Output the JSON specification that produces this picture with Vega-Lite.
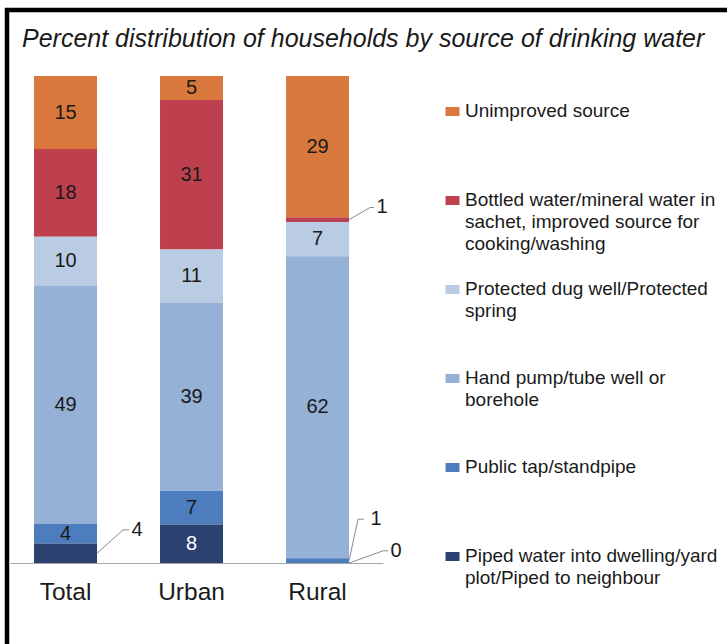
{
  "$schema": "https://vega.github.io/schema/vega-lite/v6.json",
  "width": 720,
  "height": 634,
  "autosize": {"type": "none"},
  "padding": {"left": 7, "top": 10, "right": 0, "bottom": 0},
  "background": "white",
  "title": {
    "text": "Percent distribution of households by source of drinking water",
    "anchor": "start",
    "frame": "group",
    "offset": -42,
    "dx": 15,
    "font": "Liberation Sans",
    "fontSize": 25,
    "fontStyle": "italic",
    "fontWeight": "normal",
    "color": "#1a1a1a"
  },
  "config": {
    "view": {"stroke": "black", "strokeWidth": 4.5, "strokeDash": [720, 1354, 634]},
    "style": {"guide-label": {"lineHeight": 22}}
  },
  "datasets": {
    "bars": [
      {"area": "Total", "source": "Unimproved source", "value": 15},
      {"area": "Total", "source": "Bottled water/mineral water in sachet, improved source for cooking/washing", "value": 18},
      {"area": "Total", "source": "Protected dug well/Protected spring", "value": 10},
      {"area": "Total", "source": "Hand pump/tube well or borehole", "value": 49},
      {"area": "Total", "source": "Public tap/standpipe", "value": 4},
      {"area": "Total", "source": "Piped water into dwelling/yard plot/Piped to neighbour", "value": 4},
      {"area": "Urban", "source": "Unimproved source", "value": 5},
      {"area": "Urban", "source": "Bottled water/mineral water in sachet, improved source for cooking/washing", "value": 31},
      {"area": "Urban", "source": "Protected dug well/Protected spring", "value": 11},
      {"area": "Urban", "source": "Hand pump/tube well or borehole", "value": 39},
      {"area": "Urban", "source": "Public tap/standpipe", "value": 7},
      {"area": "Urban", "source": "Piped water into dwelling/yard plot/Piped to neighbour", "value": 8},
      {"area": "Rural", "source": "Unimproved source", "value": 29},
      {"area": "Rural", "source": "Bottled water/mineral water in sachet, improved source for cooking/washing", "value": 1},
      {"area": "Rural", "source": "Protected dug well/Protected spring", "value": 7},
      {"area": "Rural", "source": "Hand pump/tube well or borehole", "value": 62},
      {"area": "Rural", "source": "Public tap/standpipe", "value": 1},
      {"area": "Rural", "source": "Piped water into dwelling/yard plot/Piped to neighbour", "value": 0}
    ]
  },
  "layer": [
    {
      "data": {"name": "bars"},
      "transform": [{"window": [{"op": "row_number", "as": "rank"}], "groupby": ["area"]}],
      "mark": {"type": "bar"},
      "encoding": {
        "x": {
          "field": "area", "type": "nominal", "sort": ["Total", "Urban", "Rural"],
          "scale": {"range": [3, 376], "paddingInner": 0.5, "paddingOuter": 0.23, "align": 0.414},
          "axis": {
            "title": null, "orient": "bottom", "offset": -81, "ticks": false, "grid": false,
            "domainColor": "#A6A6A6", "domainWidth": 1, "labelAngle": 0,
            "labelFont": "Liberation Sans", "labelFontSize": 24.5, "labelColor": "#1a1a1a", "labelPadding": 17
          }
        },
        "y": {
          "field": "value", "type": "quantitative", "stack": "normalize",
          "scale": {"domain": [0, 1], "range": [553, 66], "nice": false},
          "axis": null
        },
        "order": {"field": "rank", "type": "quantitative", "sort": "descending"},
        "color": {
          "field": "source", "type": "nominal",
          "sort": ["Unimproved source", "Bottled water/mineral water in sachet, improved source for cooking/washing", "Protected dug well/Protected spring", "Hand pump/tube well or borehole", "Public tap/standpipe", "Piped water into dwelling/yard plot/Piped to neighbour"],
          "scale": {
            "domain": ["Unimproved source", "Bottled water/mineral water in sachet, improved source for cooking/washing", "Protected dug well/Protected spring", "Hand pump/tube well or borehole", "Public tap/standpipe", "Piped water into dwelling/yard plot/Piped to neighbour"],
            "range": ["#D8783C", "#BE404F", "#B9CCE4", "#95B2D6", "#4E7DBE", "#2B4270"]
          },
          "legend": {
            "title": null, "orient": "none", "legendX": 436, "legendY": 92,
            "symbolType": "M-1,-0.64H1V0.64H-1Z", "symbolSize": 196, "symbolStrokeWidth": 0, "symbolOpacity": 1,
            "labelFont": "Liberation Sans", "labelFontSize": 19, "labelColor": "#1a1a1a",
            "labelBaseline": "top", "labelOffset": 3, "labelLimit": 400,
            "gridAlign": "all", "rowPadding": 25,
            "labelExpr": "datum.label == 'Bottled water/mineral water in sachet, improved source for cooking/washing' ? ['Bottled water/mineral water in', 'sachet, improved source for', 'cooking/washing'] : datum.label == 'Protected dug well/Protected spring' ? ['Protected dug well/Protected', 'spring'] : datum.label == 'Hand pump/tube well or borehole' ? ['Hand pump/tube well or', 'borehole'] : datum.label == 'Piped water into dwelling/yard plot/Piped to neighbour' ? ['Piped water into dwelling/yard', 'plot/Piped to neighbour'] : datum.label",
            "encode": {"labels": {"update": {"dy": {"value": -10}, "lineHeight": {"value": 22}}}}
          }
        }
      }
    },
    {
      "data": {"name": "bars"},
      "transform": [{"window": [{"op": "row_number", "as": "rank"}], "groupby": ["area"]}],
      "mark": {"type": "text", "font": "Liberation Sans", "fontSize": 20, "baseline": "middle", "align": "center"},
      "encoding": {
        "x": {"field": "area", "type": "nominal", "sort": ["Total", "Urban", "Rural"]},
        "y": {"field": "value", "type": "quantitative", "stack": "normalize", "bandPosition": 0.5},
        "order": {"field": "rank", "type": "quantitative", "sort": "descending"},
        "color": {
          "condition": {"test": "datum.source == 'Piped water into dwelling/yard plot/Piped to neighbour'", "value": "white"},
          "value": "#1a1a1a"
        },
        "text": {
          "condition": {"test": "(datum.area == 'Total' && datum.source == 'Piped water into dwelling/yard plot/Piped to neighbour') || (datum.area == 'Rural' && datum.value <= 1)", "value": ""},
          "field": "value", "type": "quantitative"
        }
      }
    },
    {
      "data": {"values": [{"area": "Total", "value": 4, "from": 0.02, "to": 0.068}]},
      "layer": [
        {"mark": {"type": "rule", "color": "#8C8C8C", "strokeWidth": 1, "x2Offset": 26},
         "encoding": {"x": {"field": "area", "type": "nominal", "sort": ["Total", "Urban", "Rural"], "bandPosition": 1}, "x2": {"field": "area", "bandPosition": 1}, "y": {"field": "from", "type": "quantitative"}, "y2": {"field": "to"}}},
        {"mark": {"type": "rule", "color": "#8C8C8C", "strokeWidth": 1, "xOffset": 26, "x2Offset": 32},
         "encoding": {"x": {"field": "area", "type": "nominal", "sort": ["Total", "Urban", "Rural"], "bandPosition": 1}, "x2": {"field": "area", "bandPosition": 1}, "y": {"field": "to", "type": "quantitative"}}},
        {"mark": {"type": "text", "font": "Liberation Sans", "fontSize": 20, "color": "#1a1a1a", "align": "center", "baseline": "middle", "dx": 40},
         "encoding": {"x": {"field": "area", "type": "nominal", "sort": ["Total", "Urban", "Rural"], "bandPosition": 1}, "y": {"field": "to", "type": "quantitative"}, "text": {"field": "value", "type": "quantitative"}}}
      ]
    },
    {
      "data": {"values": [{"area": "Rural", "value": 1, "from": 0.705, "to": 0.73}]},
      "layer": [
        {"mark": {"type": "rule", "color": "#8C8C8C", "strokeWidth": 1, "x2Offset": 21},
         "encoding": {"x": {"field": "area", "type": "nominal", "sort": ["Total", "Urban", "Rural"], "bandPosition": 1}, "x2": {"field": "area", "bandPosition": 1}, "y": {"field": "from", "type": "quantitative"}, "y2": {"field": "to"}}},
        {"mark": {"type": "rule", "color": "#8C8C8C", "strokeWidth": 1, "xOffset": 21, "x2Offset": 25},
         "encoding": {"x": {"field": "area", "type": "nominal", "sort": ["Total", "Urban", "Rural"], "bandPosition": 1}, "x2": {"field": "area", "bandPosition": 1}, "y": {"field": "to", "type": "quantitative"}}},
        {"mark": {"type": "text", "font": "Liberation Sans", "fontSize": 20, "color": "#1a1a1a", "align": "center", "baseline": "middle", "dx": 33},
         "encoding": {"x": {"field": "area", "type": "nominal", "sort": ["Total", "Urban", "Rural"], "bandPosition": 1}, "y": {"field": "to", "type": "quantitative"}, "text": {"field": "value", "type": "quantitative"}}}
      ]
    },
    {
      "data": {"values": [{"area": "Rural", "value": 1, "from": 0.005, "to": 0.09}]},
      "layer": [
        {"mark": {"type": "rule", "color": "#8C8C8C", "strokeWidth": 1, "x2Offset": 9},
         "encoding": {"x": {"field": "area", "type": "nominal", "sort": ["Total", "Urban", "Rural"], "bandPosition": 1}, "x2": {"field": "area", "bandPosition": 1}, "y": {"field": "from", "type": "quantitative"}, "y2": {"field": "to"}}},
        {"mark": {"type": "rule", "color": "#8C8C8C", "strokeWidth": 1, "xOffset": 9, "x2Offset": 15},
         "encoding": {"x": {"field": "area", "type": "nominal", "sort": ["Total", "Urban", "Rural"], "bandPosition": 1}, "x2": {"field": "area", "bandPosition": 1}, "y": {"field": "to", "type": "quantitative"}}},
        {"mark": {"type": "text", "font": "Liberation Sans", "fontSize": 20, "color": "#1a1a1a", "align": "center", "baseline": "middle", "dx": 27},
         "encoding": {"x": {"field": "area", "type": "nominal", "sort": ["Total", "Urban", "Rural"], "bandPosition": 1}, "y": {"field": "to", "type": "quantitative"}, "text": {"field": "value", "type": "quantitative"}}}
      ]
    },
    {
      "data": {"values": [{"area": "Rural", "value": 0, "from": 0.0, "to": 0.025}]},
      "layer": [
        {"mark": {"type": "rule", "color": "#8C8C8C", "strokeWidth": 1, "x2Offset": 34},
         "encoding": {"x": {"field": "area", "type": "nominal", "sort": ["Total", "Urban", "Rural"], "bandPosition": 1}, "x2": {"field": "area", "bandPosition": 1}, "y": {"field": "from", "type": "quantitative"}, "y2": {"field": "to"}}},
        {"mark": {"type": "rule", "color": "#8C8C8C", "strokeWidth": 1, "xOffset": 34, "x2Offset": 39},
         "encoding": {"x": {"field": "area", "type": "nominal", "sort": ["Total", "Urban", "Rural"], "bandPosition": 1}, "x2": {"field": "area", "bandPosition": 1}, "y": {"field": "to", "type": "quantitative"}}},
        {"mark": {"type": "text", "font": "Liberation Sans", "fontSize": 20, "color": "#1a1a1a", "align": "center", "baseline": "middle", "dx": 47},
         "encoding": {"x": {"field": "area", "type": "nominal", "sort": ["Total", "Urban", "Rural"], "bandPosition": 1}, "y": {"field": "to", "type": "quantitative"}, "text": {"field": "value", "type": "quantitative"}}}
      ]
    }
  ]
}
